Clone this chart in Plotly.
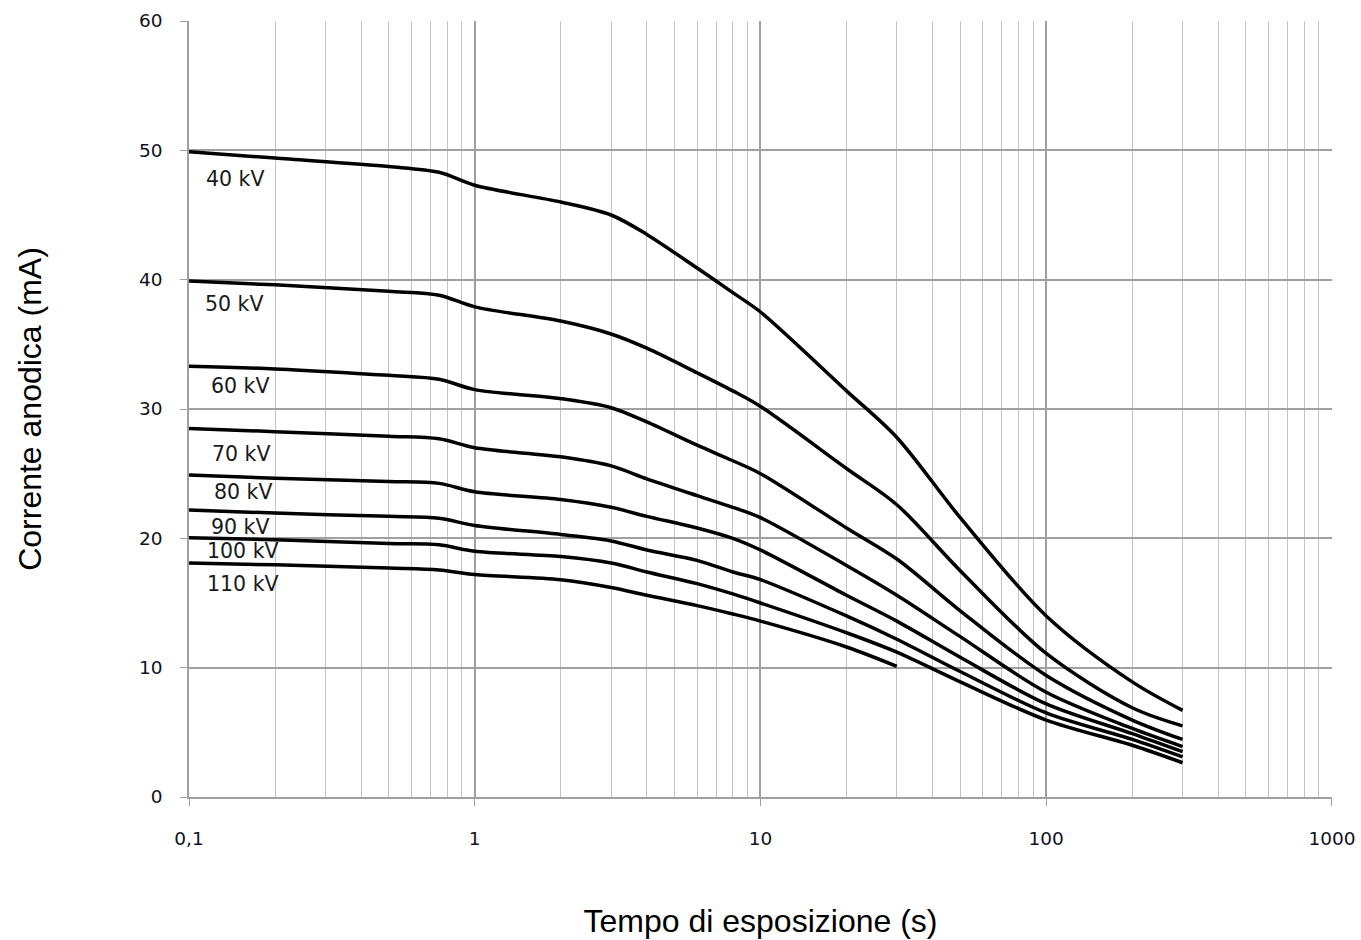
import numpy as np
import plotly.graph_objects as go

# Exposure time (s)
t_full = [0.1, 0.2, 0.5, 0.75, 1, 2, 3, 4, 6, 8, 10, 20, 30, 50, 100, 200, 300]
t_110 = [0.1, 0.2, 0.5, 0.75, 1, 2, 3, 4, 6, 8, 10, 20, 30]

# Anode current (mA) per tube voltage
ma_40 = [49.9, 49.4, 48.75, 48.3, 47.3, 46.0, 45.0, 43.5, 40.9, 39.0, 37.5, 31.4, 27.8, 21.6, 14.0, 8.9, 6.7]
ma_50 = [39.9, 39.6, 39.1, 38.8, 37.9, 36.8, 35.8, 34.7, 32.8, 31.4, 30.2, 25.4, 22.6, 17.5, 11.1, 6.9, 5.5]
ma_60 = [33.3, 33.1, 32.6, 32.3, 31.5, 30.8, 30.1, 29.0, 27.2, 26.0, 25.0, 20.8, 18.4, 14.4, 9.4, 5.95, 4.45]
ma_70 = [28.5, 28.25, 27.9, 27.7, 27.0, 26.3, 25.6, 24.6, 23.3, 22.4, 21.6, 17.9, 15.6, 12.4, 8.1, 5.3, 3.9]
ma_80 = [24.9, 24.65, 24.4, 24.25, 23.6, 23.0, 22.4, 21.7, 20.8, 20.0, 19.1, 15.6, 13.6, 10.8, 7.2, 4.9, 3.5]
ma_90 = [22.2, 21.95, 21.7, 21.55, 21.0, 20.3, 19.8, 19.1, 18.3, 17.4, 16.8, 14.0, 12.2, 9.7, 6.5, 4.45, 3.1]
ma_100 = [20.05, 19.9, 19.6, 19.5, 19.0, 18.6, 18.1, 17.4, 16.5, 15.7, 15.0, 12.7, 11.2, 8.9, 5.95, 4.0, 2.65]
ma_110 = [18.1, 17.95, 17.7, 17.55, 17.2, 16.8, 16.2, 15.6, 14.8, 14.15, 13.6, 11.6, 10.1]

labels = ["40 kV", "50 kV", "60 kV", "70 kV", "80 kV", "90 kV", "100 kV", "110 kV"]
label_t = [0.146, 0.144, 0.151, 0.153, 0.155, 0.151, 0.155, 0.155]
label_ma = [47.8, 38.1, 31.8, 26.5, 23.6, 20.9, 19.0, 16.5]

x_tickvals = [0.1, 1, 10, 100, 1000]
x_ticktext = ["0,1", "1", "10", "100", "1000"]
y_tickvals = [0, 10, 20, 30, 40, 50, 60]

series = [
    (t_full, ma_40), (t_full, ma_50), (t_full, ma_60), (t_full, ma_70),
    (t_full, ma_80), (t_full, ma_90), (t_full, ma_100), (t_110, ma_110),
]

fig = go.Figure()
for (xs, ys), name in zip(series, labels):
    fig.add_trace(go.Scatter(
        x=xs, y=ys, mode="lines", name=name,
        line=dict(color="black", width=3.5, shape="spline", smoothing=0.9),
        showlegend=False, hoverinfo="x+y+name",
    ))

for txt, lx, ly in zip(labels, label_t, label_ma):
    fig.add_annotation(
        x=np.log10(lx), y=ly, text=txt, showarrow=False,
        xref="x", yref="y",
        font=dict(family="DejaVu Sans", size=20.5, color="#1a1a1a"),
    )

grid_major = "#a0a0a0"
grid_minor = "#c4c4c4"
tick_font = dict(family="DejaVu Sans", size=18.5, color="#111122")
title_font = dict(family="Liberation Sans, Arial, sans-serif", size=32, color="black")

fig.update_xaxes(
    type="log", range=[-1, 3.0001], automargin=False,
    tickmode="array", tickvals=x_tickvals, ticktext=x_ticktext,
    ticklabeloverflow="allow",
    showgrid=True, gridcolor=grid_major, gridwidth=1.5,
    minor=dict(dtick="D1", showgrid=True, gridcolor=grid_minor, gridwidth=1,
               ticks=""),
    showline=True, linecolor=grid_major, linewidth=1.5,
    ticks="outside", ticklen=7, tickcolor=grid_major,
    ticklabelstandoff=17,
    tickfont=tick_font,
    title=dict(text="Tempo di esposizione (s)", font=title_font, standoff=62),
    zeroline=False,
)
fig.update_yaxes(
    range=[0, 60], tickmode="array", tickvals=y_tickvals, automargin=False,
    showgrid=True, gridcolor=grid_major, gridwidth=1.5,
    showline=True, linecolor=grid_major, linewidth=1.5,
    ticks="outside", ticklen=7, tickcolor=grid_major,
    ticklabelstandoff=14,
    tickfont=tick_font,
    title=dict(text="Corrente anodica (mA)", font=title_font, standoff=88),
    zeroline=False,
)

fig.update_layout(
    width=1361, height=940,
    margin=dict(l=189, r=29, t=21, b=143),
    plot_bgcolor="white", paper_bgcolor="white",
)

fig.write_html(
    "out.html",
    config={"displayModeBar": False},
    post_script="document.body.style.margin='0';document.body.style.overflow='hidden';",
)
